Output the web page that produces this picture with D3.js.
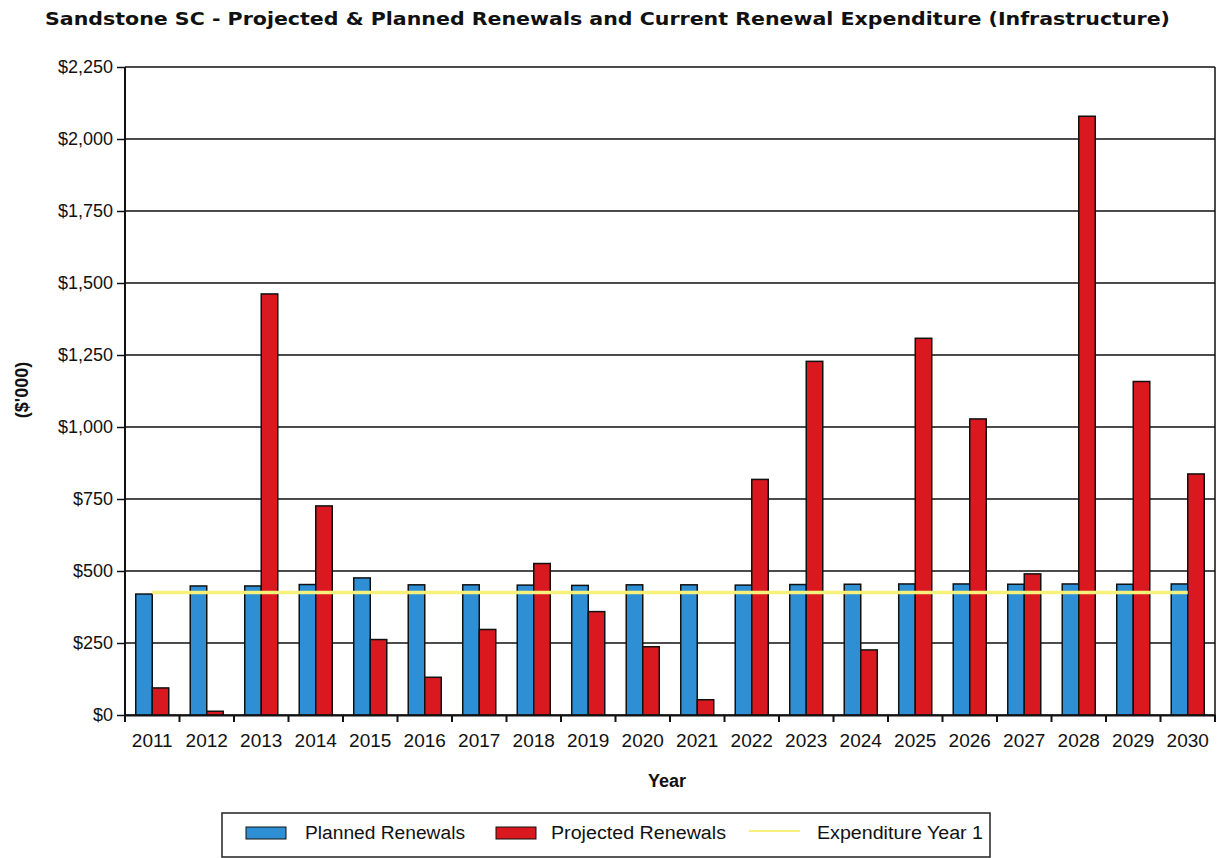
<!DOCTYPE html>
<html>
<head>
  <meta charset="utf-8">
  <title>Sandstone SC renewals</title>
  <style>
    body { margin: 0; background: #fff; }
    text { font-family: "Liberation Sans", Arial, sans-serif; fill: #111; }
    .title { font-family: "DejaVu Sans", Verdana, sans-serif; font-weight: bold; font-size: 18.5px; }
    .axtitle { font-weight: bold; font-size: 18px; }
    .leg { font-size: 18px; }
  </style>
  <script src="https://d3js.org/d3.v7.min.js"></script>
</head>
<body>
  <script>
    // data ($'000)
    var years = ['2011','2012','2013','2014','2015','2016','2017','2018','2019','2020',
                 '2021','2022','2023','2024','2025','2026','2027','2028','2029','2030'];
    var planned = [420, 448, 448, 453, 476, 452, 452, 451, 450, 452,
                   452, 451, 453, 454, 455, 455, 454, 455, 454, 455];
    var projected = [94, 13, 1462, 726, 262, 131, 297, 526, 359, 237,
                     53, 818, 1228, 226, 1308, 1028, 490, 2079, 1158, 837];
    var expenditure = [425, 425, 425, 425, 425, 425, 425, 425, 425, 425,
                       425, 425, 425, 425, 425, 425, 425, 425, 425, 425];
    var yTicks = [0, 250, 500, 750, 1000, 1250, 1500, 1750, 2000, 2250];
    var seriesNames = ['Planned Renewals', 'Projected Renewals'];
    var colors = ['#2e8fd5', '#d9181f'];
    var lineColor = '#f7f17c';

    var width = 1221, height = 858;
    var plotL = 125, plotR = 1215, plotT = 67, plotB = 715;

    var svg = d3.select('body').append('svg')
      .attr('width', width)
      .attr('height', height);

    svg.append('text')
      .attr('class', 'title')
      .attr('x', 45).attr('y', 25)
      .attr('textLength', 1125)
      .attr('lengthAdjust', 'spacingAndGlyphs')
      .text('Sandstone SC - Projected & Planned Renewals and Current Renewal Expenditure (Infrastructure)');

    var x = d3.scaleBand().domain(years).range([plotL, plotR]).padding(0);
    var xs = d3.scaleBand().domain(seriesNames).range([0, x.bandwidth()]).paddingInner(0).paddingOuter(0.65);
    var y = d3.scaleLinear().domain([0, 2250]).range([plotB, plotT]);

    // grid lines
    svg.append('g').selectAll('line')
      .data(yTicks)
      .enter().append('line')
      .attr('x1', plotL).attr('x2', plotR)
      .attr('y1', d => y(d)).attr('y2', d => y(d))
      .attr('stroke', '#111').attr('stroke-width', 1.5);

    // y axis
    var yAxis = d3.axisLeft(y).tickValues(yTicks).tickSize(8).tickPadding(4)
      .tickFormat(d => '$' + d3.format(',')(d));
    var gy = svg.append('g').attr('transform', 'translate(' + plotL + ',0)').call(yAxis);
    gy.select('.domain').remove();
    gy.selectAll('.tick line').attr('stroke', '#111').attr('stroke-width', 1.5);
    gy.selectAll('.tick text').attr('fill', '#111')
      .style('font-family', '"Liberation Sans", Arial, sans-serif')
      .style('font-size', '18px');

    // bars
    var groups = svg.append('g').selectAll('g')
      .data(years)
      .enter().append('g')
      .attr('transform', d => 'translate(' + x(d) + ',0)');

    groups.selectAll('rect')
      .data((d, i) => [
        { s: seriesNames[0], v: planned[i], c: colors[0] },
        { s: seriesNames[1], v: projected[i], c: colors[1] }
      ])
      .enter().append('rect')
      .attr('x', d => xs(d.s))
      .attr('width', xs.bandwidth())
      .attr('y', d => y(d.v))
      .attr('height', d => plotB - y(d.v))
      .attr('fill', d => d.c)
      .attr('stroke', '#111')
      .attr('stroke-width', 1.5);

    // expenditure line
    var line = d3.line()
      .x((d, i) => x(years[i]) + x.bandwidth() / 2)
      .y(d => y(d));
    svg.append('path')
      .datum(expenditure)
      .attr('d', line)
      .attr('fill', 'none')
      .attr('stroke', lineColor)
      .attr('stroke-width', 3.5);

    // frame
    svg.append('line').attr('x1', plotR).attr('x2', plotR).attr('y1', plotT).attr('y2', plotB)
      .attr('stroke', '#111').attr('stroke-width', 1.5);
    svg.append('line').attr('x1', plotL).attr('x2', plotL).attr('y1', plotT).attr('y2', plotB)
      .attr('stroke', '#111').attr('stroke-width', 2);

    // x axis
    var xAxis = d3.axisBottom(x).tickSize(0).tickPadding(19);
    var gx = svg.append('g').attr('transform', 'translate(0,' + plotB + ')').call(xAxis);
    gx.select('.domain').attr('stroke', '#111').attr('stroke-width', 2);
    gx.selectAll('.tick text').attr('fill', '#111')
      .style('font-family', '"Liberation Sans", Arial, sans-serif')
      .style('font-size', '19px');
    gx.selectAll('line.sep')
      .data(years.concat(['end']))
      .enter().append('line')
      .attr('class', 'sep')
      .attr('x1', (d, i) => plotL + i * x.step())
      .attr('x2', (d, i) => plotL + i * x.step())
      .attr('y1', 0).attr('y2', 7)
      .attr('stroke', '#111').attr('stroke-width', 2);

    svg.append('text')
      .attr('class', 'axtitle')
      .attr('x', 667).attr('y', 787)
      .attr('text-anchor', 'middle')
      .text('Year');

    svg.append('text')
      .attr('class', 'axtitle')
      .attr('transform', 'translate(28,390) rotate(-90)')
      .attr('text-anchor', 'middle')
      .text("($'000)");

    // legend
    var leg = svg.append('g');
    leg.append('rect')
      .attr('x', 222).attr('y', 813).attr('width', 768).attr('height', 44)
      .attr('fill', '#fff').attr('stroke', '#222').attr('stroke-width', 1.5);
    var legItems = [
      { name: seriesNames[0], type: 'rect', c: colors[0], sx: 246, tx: 305, tw: 160 },
      { name: seriesNames[1], type: 'rect', c: colors[1], sx: 496, tx: 551, tw: 175 },
      { name: 'Expenditure Year 1', type: 'line', c: lineColor, sx: 749, tx: 817, tw: 166 }
    ];
    legItems.forEach(function (d) {
      if (d.type === 'rect') {
        leg.append('rect')
          .attr('x', d.sx).attr('y', 827).attr('width', 40).attr('height', 12)
          .attr('fill', d.c).attr('stroke', '#111').attr('stroke-width', 1);
      } else {
        leg.append('line')
          .attr('x1', d.sx).attr('x2', d.sx + 51).attr('y1', 831).attr('y2', 831)
          .attr('stroke', d.c).attr('stroke-width', 2);
      }
      leg.append('text')
        .attr('class', 'leg')
        .attr('x', d.tx).attr('y', 839)
        .attr('textLength', d.tw)
        .attr('lengthAdjust', 'spacingAndGlyphs')
        .text(d.name);
    });
  </script>
</body>
</html>
